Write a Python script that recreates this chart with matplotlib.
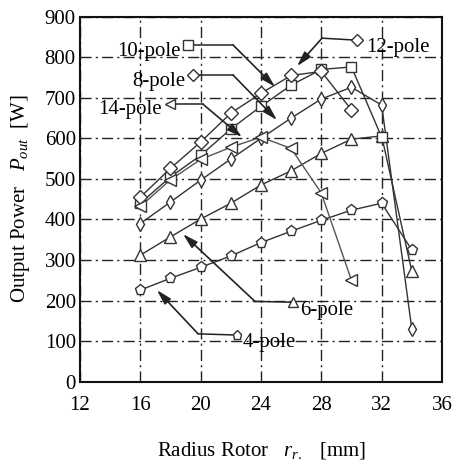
import matplotlib
matplotlib.use('Agg')
import matplotlib.pyplot as plt

plt.rcParams['font.family'] = ['Liberation Serif', 'DejaVu Serif']
plt.rcParams['mathtext.fontset'] = 'custom'
plt.rcParams['mathtext.rm'] = 'Liberation Serif'
plt.rcParams['mathtext.it'] = 'Liberation Serif:italic'

# rotor radius [mm]
r_4 = [16, 18, 20, 22, 24, 26, 28, 30, 32, 34]
p_4 = [226, 255, 282, 310, 343, 371, 398, 423, 440, 325]
r_6 = [16, 18, 20, 22, 24, 26, 28, 30, 32, 34]
p_6 = [312, 357, 401, 440, 485, 520, 563, 598, 606, 272]
r_8 = [16, 18, 20, 22, 24, 26, 28, 30, 32, 34]
p_8 = [390, 443, 497, 549, 600, 650, 697, 726, 682, 130]
r_10 = [16, 18, 20, 22, 24, 26, 28, 30, 32]
p_10 = [440, 505, 558, 623, 679, 731, 770, 776, 603]
r_12 = [16, 18, 20, 22, 24, 26, 28, 30]
p_12 = [455, 526, 591, 662, 711, 755, 765, 670]
r_14 = [16, 18, 20, 22, 24, 26, 28, 30]
p_14 = [432, 498, 548, 578, 603, 575, 465, 250]

xticks = [12, 16, 20, 24, 28, 32, 36]
yticks = [0, 100, 200, 300, 400, 500, 600, 700, 800, 900]

fig = plt.figure(figsize=(4.65, 4.63), dpi=100)
ax = fig.add_axes([0.172, 0.1756, 0.7785, 0.7884])

series = [
    (r_4, p_4, 'p', 8, '#333333'),
    (r_6, p_6, '^', 8, '#333333'),
    (r_8, p_8, 'd', 7, '#333333'),
    (r_10, p_10, 's', 7, '#333333'),
    (r_12, p_12, 'D', 7, '#333333'),
    (r_14, p_14, '<', 8, '#555555'),
]
for xs, ys, mk, ms, c in series:
    ax.plot(xs, ys, color=c, lw=1.0, marker=mk, ms=ms, mfc='white',
            mec='#333333', mew=1.0, zorder=3)

# labels with elbow leaders: (text, marker, text pos, align, marker xy, elbow xy, tip xy)
notes = [
    ('10-pole', 's', (18.7, 804), 'right', (19.16, 830), (22.15, 830), (24.93, 727)),
    ('8-pole', 'D', (19.0, 730), 'right', (19.49, 756), (22.15, 756), (25.06, 645)),
    ('14-pole', '<', (17.45, 659), 'right', (17.97, 684), (20.16, 684), (22.74, 603)),
    ('12-pole', 'D', (31.0, 812), 'left', (30.37, 842), (28.05, 847), (26.39, 778)),
    ('6-pole', '^', (26.6, 165), 'left', (26.12, 196), (23.6, 198), (18.83, 364)),
    ('4-pole', 'p', (22.75, 86), 'left', (22.41, 115), (19.83, 118), (17.1, 226)),
]
for txt, mk, tpos, ha, mpos, epos, tip in notes:
    ax.plot([mpos[0], epos[0]], [mpos[1], epos[1]], color='#222222', lw=1.1, zorder=4)
    ax.annotate('', xy=tip, xytext=epos,
                arrowprops=dict(arrowstyle='-|>,head_length=0.9,head_width=0.25',
                                color='#222222', lw=1.2, shrinkA=0, shrinkB=0),
                zorder=4)
    ax.plot([mpos[0]], [mpos[1]], marker=mk, ms=6.5, mfc='white', mec='#333333',
            mew=1.0, zorder=5)
    ax.text(tpos[0], tpos[1], txt, ha=ha, va='baseline', fontsize=15, zorder=6)

ax.set_xlim(12, 36)
ax.set_ylim(0, 900)
ax.set_xticks(xticks)
ax.set_yticks(yticks)
ax.tick_params(length=0, labelsize=15)
ax.tick_params(axis='x', pad=10)
ax.tick_params(axis='y', pad=3)
ax.grid(True, color='#222222', lw=1.0, linestyle=(0, (8, 3, 1.5, 3)))
for s in ax.spines.values():
    s.set_linewidth(1.5)
    s.set_color('#111111')

ax.set_xlabel(r'Radius Rotor   $r_{r.}$   [mm]', fontsize=15, labelpad=18)
ax.set_ylabel(r'Output Power   $P_{out}$  [W]', fontsize=15, labelpad=9)

fig.savefig('out.png', dpi=100)
